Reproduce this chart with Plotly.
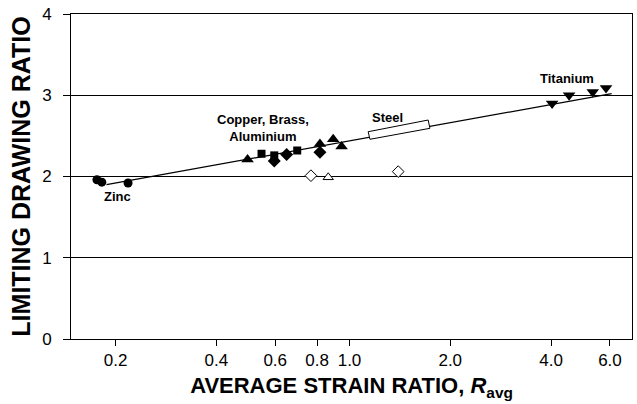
import math
import plotly.graph_objects as go

# ---- data ----
zinc_r = [0.176, 0.182, 0.218]
zinc_ldr = [1.96, 1.93, 1.92]

square_r = [0.546, 0.596, 0.698]
square_ldr = [2.28, 2.26, 2.32]

diamond_r = [0.596, 0.649, 0.816]
diamond_ldr = [2.19, 2.27, 2.30]

triangle_r = [0.496, 0.816, 0.894, 0.947]
triangle_ldr = [2.21, 2.40, 2.46, 2.37]

titanium_r = [4.03, 4.53, 5.33, 5.84]
titanium_ldr = [2.90, 3.00, 3.04, 3.09]

open_diamond_r = [0.767, 1.398]
open_diamond_ldr = [2.01, 2.06]

open_triangle_r = [0.864]
open_triangle_ldr = [1.99]

fit_r = [0.188, 6.07]
fit_ldr = [1.90, 3.02]

steel_box_r = [1.137, 1.718, 1.739, 1.151, 1.137]
steel_box_ldr = [2.551, 2.695, 2.593, 2.458, 2.551]

x_tick_vals = [0.2, 0.4, 0.6, 0.8, 1.0, 2.0, 4.0, 6.0]
x_tick_text = ["0.2", "0.4", "0.6", "0.8", "1.0", "2.0", "4.0", "6.0"]
y_tick_vals = [0, 1, 2, 3, 4]

label_text = ["Zinc", "Copper, Brass,<br>Aluminium", "Steel", "Titanium"]
label_r = [0.203, 0.551, 1.30, 4.46]
label_ldr = [1.75, 2.60, 2.73, 3.21]

FONT = "Liberation Sans, Arial, sans-serif"

fig = go.Figure()

# fit line
fig.add_trace(go.Scatter(x=fit_r, y=fit_ldr, mode="lines",
                         line=dict(color="black", width=1.2), hoverinfo="skip"))
# steel box
fig.add_trace(go.Scatter(x=steel_box_r, y=steel_box_ldr, mode="lines",
                         fill="toself", fillcolor="white",
                         line=dict(color="black", width=1), hoverinfo="skip"))

def pts(x, y, symbol, size, filled=True):
    if filled:
        marker = dict(symbol=symbol, size=size, color="black",
                      line=dict(color="black", width=0))
    else:
        marker = dict(symbol=symbol, size=size, color="white",
                      line=dict(color="black", width=1))
    fig.add_trace(go.Scatter(x=x, y=y, mode="markers", marker=marker))

pts(zinc_r, zinc_ldr, "circle", 9)
pts(square_r, square_ldr, "square", 8)
pts(diamond_r, diamond_ldr, "diamond", 10)
pts(triangle_r, triangle_ldr, "triangle-up", 11)
pts(titanium_r, titanium_ldr, "triangle-down", 11)
pts(open_diamond_r, open_diamond_ldr, "diamond", 9, filled=False)
pts(open_triangle_r, open_triangle_ldr, "triangle-up", 9, filled=False)

for txt, x, y in zip(label_text, label_r, label_ldr):
    fig.add_annotation(x=math.log10(x), y=y, xref="x", yref="y",
                       text=f"<b>{txt}</b>",
                       showarrow=False, align="center",
                       font=dict(family=FONT, size=13, color="black"))

fig.update_layout(
    width=637, height=404,
    margin=dict(l=71, r=5, t=14, b=65),
    paper_bgcolor="white", plot_bgcolor="white",
    showlegend=False,
    font=dict(family=FONT, color="black"),
)

fig.update_xaxes(
    type="log", range=[-0.832, 0.844], automargin=False,
    tickvals=x_tick_vals, ticktext=x_tick_text,
    ticks="outside", ticklen=6, tickcolor="black", tickwidth=1,
    ticklabelstandoff=0,
    showline=True, linecolor="black", linewidth=1, mirror=True,
    showgrid=False, zeroline=False,
    tickfont=dict(family=FONT, size=17, color="black"),
    title=dict(text="<b>AVERAGE STRAIN RATIO, <i>R</i><sub>avg</sub></b>",
               font=dict(family=FONT, size=22, color="black"), standoff=8),
)
fig.update_yaxes(
    range=[0, 4], automargin=False,
    tickvals=y_tick_vals,
    ticks="outside", ticklen=7, tickcolor="black", tickwidth=1,
    ticklabelstandoff=8, ticklabeloverflow="allow",
    showline=True, linecolor="black", linewidth=1, mirror=True,
    showgrid=True, gridcolor="black", gridwidth=1, zeroline=False,
    tickfont=dict(family=FONT, size=17, color="black"),
    title=dict(text="<b>LIMITING DRAWING RATIO</b>",
               font=dict(family=FONT, size=25, color="black"), standoff=4),
)

# remove the default 8px page margin so the figure fills the window exactly
fig.write_html("out.html",
               config={"displayModeBar": False},
               post_script="document.body.style.margin='0';document.body.style.overflow='hidden';")
